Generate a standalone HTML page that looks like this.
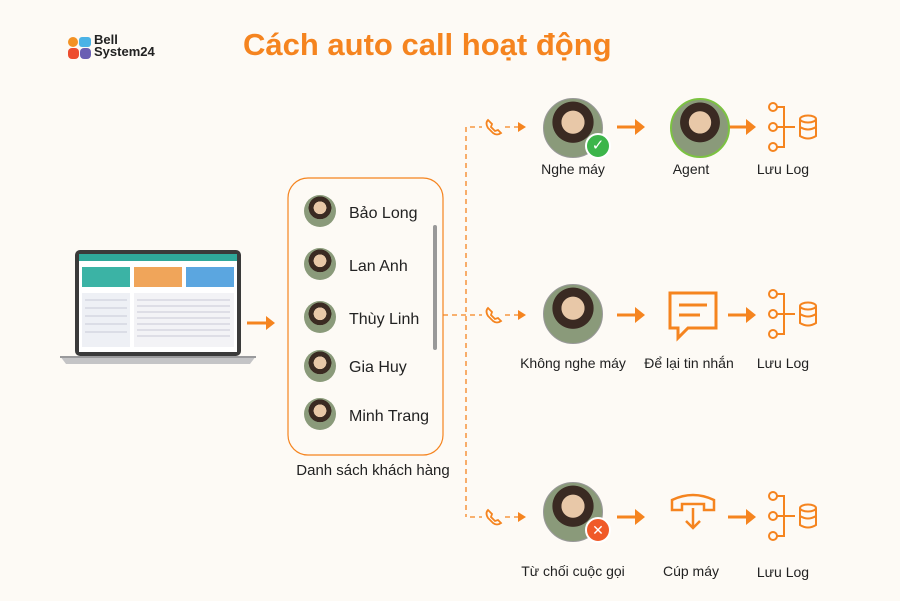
<!DOCTYPE html>
<html><head><meta charset="utf-8"><style>
body{margin:0;width:900px;height:601px;background:#fdfaf5;font-family:"Liberation Sans",sans-serif;position:relative;overflow:hidden}
.t{position:absolute;font-size:14px;color:#222;white-space:nowrap;transform:translateX(-50%)}
.n{position:absolute;font-size:16px;color:#222}
.av{position:absolute;border-radius:50%;background:radial-gradient(circle at 50% 40%,#e8c8a8 0 25%,#3a2a22 26% 45%,#8a9a7a 46%);}
</style></head><body>
<svg width="900" height="601" style="position:absolute;left:0;top:0">
<g fill="#ed4d2f"><rect x="68" y="37" width="10" height="10" rx="5" fill="#f39224"/><rect x="79" y="37" width="12" height="10" rx="3" fill="#4bb3e6"/><rect x="68" y="48" width="11" height="11" rx="4"/><rect x="80" y="48" width="11" height="11" rx="4" fill="#6a5fb3"/></g>
<!-- laptop -->
<rect x="75" y="250" width="166" height="106" rx="5" fill="#3a3a3a"/>
<rect x="79" y="254" width="158" height="98" fill="#fff"/>
<rect x="79" y="254" width="158" height="7" fill="#2fa89a"/>
<rect x="82" y="267" width="48" height="20" fill="#3bb3a5"/><rect x="134" y="267" width="48" height="20" fill="#f0a55a"/><rect x="186" y="267" width="48" height="20" fill="#5ba6e0"/>
<rect x="82" y="293" width="48" height="54" fill="#eef0f5"/><rect x="134" y="293" width="100" height="54" fill="#f3f3f6"/>
<g stroke="#c8cad6" stroke-width="1"><path d="M137 300H230M137 306H230M137 312H230M137 318H230M137 324H230M137 330H230M137 336H230M85 300H127M85 308H127M85 316H127M85 324H127M85 332H127"/></g>
<path d="M60 356 H256 L250 364 H66 Z" fill="#c4c4c6"/><path d="M60 356 H256 V358 H60Z" fill="#9a9a9c"/>
<path d="M247 323 H268" stroke="#f5841f" stroke-width="3"/><path d="M266 316 L275 323 L266 330Z" fill="#f5841f"/>
<rect x="288" y="178" width="155" height="277" rx="20" fill="none" stroke="#f5841f" stroke-width="1.2"/>
<rect x="433" y="225" width="4" height="125" rx="2" fill="#999"/>
<g stroke="#f5841f" stroke-width="1.3" stroke-dasharray="5 4" fill="none">
<path d="M466 127 V517"/><path d="M443 315 H466"/>
<path d="M470 127 H482"/><path d="M505 127 H518"/>
<path d="M470 315 H482"/><path d="M505 315 H518"/>
<path d="M470 517 H482"/><path d="M505 517 H518"/>
</g>
<g fill="#f5841f"><path d="M518 122 L526 127 L518 132Z"/><path d="M518 310 L526 315 L518 320Z"/><path d="M518 512 L526 517 L518 522Z"/></g>
<g fill="none" stroke="#f5841f" stroke-width="1.8">
<path d="M488 120 q-3 3 0 8 l5 5 q4 3 8 0 l-3 -3 -3 1 -4 -4 1 -3z"/>
<path d="M488 308 q-3 3 0 8 l5 5 q4 3 8 0 l-3 -3 -3 1 -4 -4 1 -3z"/>
<path d="M488 510 q-3 3 0 8 l5 5 q4 3 8 0 l-3 -3 -3 1 -4 -4 1 -3z"/>
</g>
<g stroke="#f5841f" stroke-width="3">
<path d="M617 127 H637"/><path d="M728 127 H748"/>
<path d="M617 315 H637"/><path d="M728 315 H748"/>
<path d="M617 517 H637"/><path d="M728 517 H748"/>
</g>
<g fill="#f5841f"><path d="M635 119 L645 127 L635 135Z"/><path d="M746 119 L756 127 L746 135Z"/>
<path d="M635 307 L645 315 L635 323Z"/><path d="M746 307 L756 315 L746 323Z"/>
<path d="M635 509 L645 517 L635 525Z"/><path d="M746 509 L756 517 L746 525Z"/></g>
<g id="lg" fill="none" stroke="#f5841f" stroke-width="2">
<circle cx="773" cy="107" r="4"/><circle cx="773" cy="127" r="4"/><circle cx="773" cy="147" r="4"/>
<path d="M777 107 H784 V147 H777 M777 127 H795"/>
<ellipse cx="808" cy="119" rx="8" ry="3.5"/><path d="M800 119 V136 Q808 141 816 136 V119 M800 127 Q808 132 816 127"/>
</g>
<use href="#lg" y="187"/><use href="#lg" y="389"/>
<path d="M670 293 H716 V328 H688 L678 338 V328 H670Z" fill="none" stroke="#f5841f" stroke-width="3"/>
<path d="M679 305 H707 M679 315 H700" stroke="#f5841f" stroke-width="3"/>
<path d="M672 510 V500 Q693 490 714 500 V510 H704 V504 H682 V510Z" fill="none" stroke="#f5841f" stroke-width="2.5"/>
<path d="M693 508 V528 M686 521 L693 528 700 521" fill="none" stroke="#f5841f" stroke-width="2.5"/>
</svg>
<div style="position:absolute;left:94px;top:34px;font-size:13px;font-weight:bold;line-height:12px;color:#222">Bell<br>System24</div>
<div style="position:absolute;left:243px;top:27px;font-size:31px;font-weight:bold;color:#f5841f">Cách auto call hoạt động</div>
<div class="av" style="left:543px;top:98px;width:58px;height:58px;border:1px solid #999"></div>
<div style="position:absolute;left:585px;top:133px;width:22px;height:22px;border-radius:50%;background:#3cb54a;border:2px solid #fff;color:#fff;font-size:15px;text-align:center;line-height:22px">✓</div>
<div class="av" style="left:670px;top:98px;width:56px;height:56px;border:2px solid #7cc242"></div>
<div class="av" style="left:543px;top:284px;width:58px;height:58px;border:1px solid #999"></div>
<div class="av" style="left:543px;top:482px;width:58px;height:58px;border:1px solid #999"></div>
<div style="position:absolute;left:585px;top:517px;width:22px;height:22px;border-radius:50%;background:#f05a28;border:2px solid #fff;color:#fff;font-size:14px;text-align:center;line-height:22px">✕</div>
<div class="t" style="left:573px;top:161px">Nghe máy</div>
<div class="t" style="left:691px;top:161px">Agent</div>
<div class="t" style="left:783px;top:161px">Lưu Log</div>
<div class="t" style="left:573px;top:355px">Không nghe máy</div>
<div class="t" style="left:689px;top:355px">Để lại tin nhắn</div>
<div class="t" style="left:783px;top:355px">Lưu Log</div>
<div class="t" style="left:573px;top:563px">Từ chối cuộc gọi</div>
<div class="t" style="left:691px;top:563px">Cúp máy</div>
<div class="t" style="left:783px;top:564px">Lưu Log</div>
<div class="t" style="left:373px;top:462px;font-size:15px">Danh sách khách hàng</div>
<div class="av" style="left:304px;top:195px;width:32px;height:32px"></div><div class="n" style="left:349px;top:205px">Bảo Long</div>
<div class="av" style="left:304px;top:248px;width:32px;height:32px"></div><div class="n" style="left:349px;top:258px">Lan Anh</div>
<div class="av" style="left:304px;top:301px;width:32px;height:32px"></div><div class="n" style="left:349px;top:311px">Thùy Linh</div>
<div class="av" style="left:304px;top:350px;width:32px;height:32px"></div><div class="n" style="left:349px;top:359px">Gia Huy</div>
<div class="av" style="left:304px;top:398px;width:32px;height:32px"></div><div class="n" style="left:349px;top:408px">Minh Trang</div>
</body></html>
